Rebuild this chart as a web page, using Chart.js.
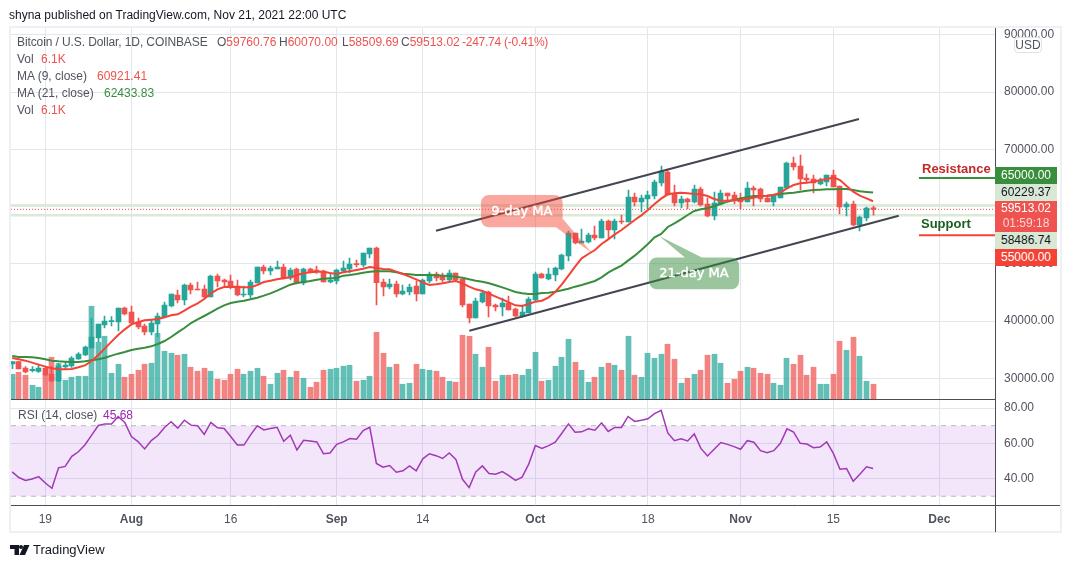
<!DOCTYPE html>
<html>
<head>
<meta charset="utf-8">
<title>BTCUSD</title>
<style>
	html, body { margin: 0; padding: 0; background: #fff; overflow: hidden; }
	body { width: 1071px; height: 568px; position: relative; font: 12px "Liberation Sans", Arial, sans-serif; color: #50535e; }
	#frame { position: absolute; left: 9px; top: 26px; width: 1053px; height: 507px; box-sizing: border-box; border: 2px solid #eef0f4; }
	canvas { position: absolute; left: 0; top: 0; }
	.t { position: absolute; white-space: nowrap; line-height: 14px; }
	.r { color: #ef5350; }
	.tag { position: absolute; left: 995px; width: 62px; text-align: center; line-height: 17px; color: #fff; }
</style>
</head>
<body>
<div id="frame"></div>
<canvas id="chart" width="1071" height="568"></canvas>

<div class="t" style="left:9px;top:8px;font-size:12px;color:#131722">shyna published on TradingView.com, Nov 21, 2021 22:00 UTC</div>

<div class="t" style="left:17px;top:35px;letter-spacing:-.1px">Bitcoin / U.S. Dollar, 1D, COINBASE</div>
<div class="t" style="left:217px;top:35px">O<span class="r">59760.76</span></div>
<div class="t" style="left:279px;top:35px">H<span class="r">60070.00</span></div>
<div class="t" style="left:342px;top:35px">L<span class="r">58509.69</span></div>
<div class="t" style="left:401px;top:35px">C<span class="r">59513.02</span></div>
<div class="t r" style="left:462px;top:35px;letter-spacing:-.25px">-247.74 (-0.41%)</div>
<div class="t" style="left:17px;top:52px">Vol</div><div class="t r" style="left:41px;top:52px">6.1K</div>
<div class="t" style="left:17px;top:69px">MA (9, close)</div><div class="t r" style="left:97px;top:69px">60921.41</div>
<div class="t" style="left:17px;top:86px">MA (21, close)</div><div class="t" style="left:104px;top:86px;color:#388e3c">62433.83</div>
<div class="t" style="left:17px;top:103px">Vol</div><div class="t r" style="left:41px;top:103px">6.1K</div>
<div class="t" style="left:18px;top:408px">RSI (14, close)</div><div class="t" style="left:103px;top:408px;color:#9c27b0">45.68</div>

<div class="t" style="left:922px;top:162px;font-weight:bold;font-size:13px;color:#c62828">Resistance</div>
<div class="t" style="left:921px;top:217px;font-weight:bold;font-size:13px;color:#1b5e20">Support</div>

<div class="tag" style="top:167px;background:#388e3c">65000.00</div>
<div class="tag" style="top:184px;background:#d8e8d4;color:#131722">60229.37</div>
<div class="tag" style="top:201px;height:31px;background:#ef5350;line-height:15px">59513.02<br><span style="opacity:.75">01:59:18</span></div>
<div class="tag" style="top:232px;background:#d8e8d4;color:#131722">58486.74</div>
<div class="tag" style="top:249px;background:#f44336">55000.00</div>

<div class="t" style="left:1014px;top:37px;width:26px;height:14px;text-align:center;border:1px solid #dfe1e6;border-radius:4px;background:rgba(255,255,255,.85)">USD</div>

<svg style="position:absolute;left:0;top:0" width="40" height="568">
	<path fill="#131722" d="M10 545h9v10h-4.5v-6H10zM24 545h5.5l-4.5 10h-5.5z"/>
	<circle fill="#131722" cx="21" cy="547" r="2"/>
</svg>
<div class="t" style="left:33px;top:543px;font-size:13px;color:#131722">TradingView</div>

<script src="https://cdn.jsdelivr.net/npm/chart.js@4/dist/chart.umd.min.js"></script>
<script>
// daily candles, Jul 14 - Nov 21 2021
var opens = [
	32500,32907,31800,31335,31218,31742,30752,29530,31975,32150,
	33372,34071,35294,37040,39311,39893,39835,42280,41582,39835,
	39136,38088,39486,40708,42630,44551,43677,46297,45599,45599,
	44202,47869,47171,46996,46123,44551,44551,46647,49441,48743,
	49092,49441,47520,49092,46647,49092,48917,48743,46821,46996,
	48743,49093,50024,49791,51713,52761,46822,45949,46473,44726,
	45076,46124,44726,46997,48219,47870,47171,48394,47346,42980,
	40534,43329,45076,42805,42456,43154,42106,40884,41408,43678,
	48219,47346,48045,49093,51363,55380,53634,53808,55031,54507,
	57476,55904,57476,57302,61669,60796,61320,61844,64114,66035,
	62193,60621,61320,60796,63066,60446,58350,60446,62367,62018,
	61320,60796,63241,63066,61494,60796,61494,63241,67607,67083,
	64987,64813,63939,64289,65511,63590,59922,60446,56778,58001,
	59760.76
];
var highs = [
	32907,32907,32034,32034,32325,32150,32150,32616,32907,33780,
	34479,35643,40534,39486,40883,40768,42280,42455,42630,40534,
	39486,40184,41407,43328,44725,45424,46472,46647,46821,46297,
	48044,48219,47345,48044,47171,46123,47171,49441,49790,49616,
	50489,49965,49267,49267,49267,49267,49616,48917,48219,49092,
	50490,51014,50665,51887,52761,52935,47346,47346,46997,46298,
	46473,46997,47346,48569,48569,48394,48918,48394,47346,42980,
	44027,45076,45250,42980,44027,44377,42281,42805,44202,48569,
	48394,49267,49442,51713,55730,55380,56079,55380,56603,57826,
	57651,57826,58524,62891,62367,62018,62717,64638,67083,66559,
	63765,61844,61494,63765,63415,61494,62542,62891,62367,62542,
	62367,64289,63590,63241,62018,62193,63415,67782,68655,69004,
	65686,65511,64987,65511,66385,63590,60796,60970,58350,59922,
	60070
];
var lows = [
	31684,31626,30927,31102,31044,30403,29355,29414,31626,31917,
	33314,33955,35294,36342,38787,39136,38263,41057,39486,38612,
	37565,37565,37215,40534,42455,43153,42804,44725,45424,44027,
	44202,45948,45948,45599,44376,44202,44027,46647,48219,48044,
	49092,47345,47171,46472,46297,48393,48335,46821,46647,46472,
	48569,48394,49442,49442,51014,42805,44377,45600,44202,44551,
	44551,43503,44726,46648,46997,46822,46997,46997,42456,39661,
	40534,43154,40709,41757,40884,41932,40709,40709,41408,43503,
	47521,47171,46997,48918,50490,53459,53634,53634,54158,54507,
	54332,54332,56952,57302,60097,59049,59573,61320,63590,62018,
	60097,59748,59573,60621,60097,58176,57652,60272,61145,60446,
	59573,60796,60097,60796,60796,60097,61494,63241,66385,62891,
	64289,62367,63765,63590,63415,58700,58350,56604,55730,57477,
	58509.69
];
var closes = [
	32907,31626,31102,31568,31800,30578,29530,32150,32325,33547,
	34246,35468,37215,39486,40010,40010,42280,41232,39660,38962,
	38088,39660,40883,42804,44725,43677,46297,45424,45424,44202,
	47869,46996,46821,45948,44551,44725,46821,49441,48743,49267,
	49441,47520,48917,46647,49092,48568,48743,46821,47171,48917,
	49267,49966,49850,51887,52761,46706,45949,46473,44726,45250,
	45949,44726,47171,48219,47521,47171,48394,47171,42805,40534,
	43503,44901,42630,42456,43154,41932,40884,41582,43853,48219,
	47521,48219,49267,51538,55380,53634,53983,55031,54507,57476,
	55904,57476,57302,61669,60796,61494,62018,64289,66210,62018,
	60621,61320,60796,63066,60272,58350,60621,62367,61844,60970,
	60796,63241,62891,61320,60796,61844,63415,67607,66909,64813,
	64638,64114,64463,65511,63415,59922,60446,56778,58176,59748,
	59513.02
];
// volume in thousands
var volumes = [
	10.1,10.9,9.7,5.7,4.9,10.1,16.9,14.4,7.7,8.9,
	9.3,9.3,37.3,22.9,25.3,10.5,14.1,8.9,10.1,11.7,
	14.1,14.5,26.5,19.3,18.5,17.7,18.1,12.9,11.3,12.5,
	11.3,8.1,7.7,10.1,12.1,10.1,11.3,12.5,9.3,6.1,
	10.5,11.7,8.9,11.3,8.5,4.9,6.9,11.7,12.1,12.5,
	13.3,13.7,7.3,7.7,9.3,26.9,18.5,12.9,14.1,6.1,
	6.5,14.1,12.1,11.7,11.3,8.9,7.3,6.9,25.7,25.3,
	18.1,12.9,20.9,7.3,9.7,9.7,10.1,9.7,12.1,18.9,
	7.3,7.7,13.3,16.9,24.1,14.9,11.7,6.9,8.9,12.9,
	14.5,13.7,11.7,25.3,9.7,8.9,18.5,16.5,18.1,22.1,
	16.1,6.5,8.5,10.1,11.7,17.7,18.1,14.5,6.5,8.1,
	11.3,12.9,12.5,10.5,10.1,6.5,5.7,16.5,14.1,17.7,
	9.7,12.9,6.1,6.1,10.1,23.3,19.7,24.9,17.3,7.3,
	6.1
];
var ma9 = [
	33547,33314,33081,32732,32383,32034,31742,31568,31568,31626,
	31917,32266,33023,34071,35235,36400,37564,38554,39427,39777,
	40126,40243,40359,40650,41000,41174,41815,42513,43095,43852,
	44842,45541,45948,46006,45948,45890,45890,46297,46821,47054,
	47287,47462,47636,48044,48335,48510,48626,48626,48393,48219,
	48510,48685,48918,49151,49442,49267,49093,49035,48627,48219,
	47754,47288,46764,46298,46415,46589,46822,46997,46589,46007,
	45541,45250,44785,44260,43795,43271,42747,42630,42980,43387,
	43562,44144,45076,46415,47928,49500,50956,51713,52411,53459,
	54274,55148,55904,56778,57651,58467,59398,60446,61378,62135,
	62309,62426,62309,62193,62135,61844,61320,61028,61028,61145,
	61145,61378,61552,61844,61902,62018,62426,63182,63765,64056,
	64172,64347,64638,64755,65104,64638,63590,62600,61902,61436,
	60921.41
];
var ma21 = [
	33897,33722,33722,33664,33547,33314,33081,32965,32907,32848,
	32848,32965,33140,33314,33605,33955,34304,34595,34944,35177,
	35352,35585,35992,36516,37215,38030,38787,39660,40301,40883,
	41523,42164,42746,43153,43386,43561,43794,44085,44434,44842,
	45308,45832,46356,46647,46821,46996,47229,47404,47462,47520,
	47928,48045,48219,48452,48627,48685,48685,48685,48510,48278,
	48161,48045,48045,48045,47986,47928,47870,47754,47579,47288,
	47055,46880,46589,46240,45891,45483,45076,44843,44726,44726,
	44901,44959,45134,45367,45658,46007,46298,46648,46997,47637,
	48452,49093,49675,50548,51421,52411,53459,54624,55206,56429,
	57069,57768,58525,59223,59515,59689,60097,60446,60854,61145,
	61436,61611,61844,61844,61902,62018,62193,62309,62426,62600,
	62775,62891,62950,63008,63008,63066,63066,62891,62659,62542,
	62433.83
];
var rsi = [
	43.8,40.6,39.0,39.8,41.1,37.5,34.5,46.1,46.9,52.6,
	55.2,59.2,64.6,70.1,71.0,71.0,75.2,71.8,63.8,61.0,
	56.8,61.5,64.4,69.0,72.2,68.6,73.1,70.3,69.9,65.0,
	71.8,68.8,68.4,63.8,59.0,59.0,64.8,69.9,67.6,68.4,
	69.1,61.1,64.6,56.2,61.7,61.3,60.8,54.1,54.5,59.4,
	60.8,62.7,62.3,67.2,69.1,48.6,46.5,47.4,43.6,44.4,
	47.2,44.4,51.2,54.1,53.0,51.4,54.5,50.9,39.6,34.9,
	43.8,47.2,42.9,42.5,44.0,41.7,39.0,40.8,48.2,58.7,
	57.1,58.7,60.6,65.7,71.0,66.3,66.5,68.2,67.4,71.6,
	66.7,69.0,69.0,75.2,72.4,73.1,73.9,76.8,78.7,65.9,
	61.5,62.5,61.3,65.3,57.1,52.8,56.6,60.4,59.4,58.1,
	56.6,61.5,60.6,55.8,54.7,55.8,60.0,68.2,66.3,60.0,
	59.6,57.5,57.9,60.8,54.3,45.3,45.7,38.5,42.5,46.7,
	45.68
];

// day index from Jul 14
var tickDays = [5, 18, 33, 49, 62, 79, 96, 110, 124, 140];
var tickLabels = ["19", "Aug", "16", "Sep", "14", "Oct", "18", "Nov", "15", "Dec"];
var monthLabels = ["Aug", "Sep", "Oct", "Nov", "Dec"];
var priceTicks = [30000, 40000, 50000, 60000, 70000, 80000, 90000];
var rsiTicks = [40, 60, 80];

var upperChannel = [{x: 64.0, y: 55782}, {x: 127.87, y: 75293}];
var lowerChannel = [{x: 69.03, y: 38314}, {x: 133.87, y: 58402}];
var resistance = 65000, support = 55000, rayStart = 136.93;
var dayHigh = 60229.37, dayLow = 58486.74, lastClose = 59513.02;
var rsiTop = 70, rsiBottom = 30;
var tip9 = {x: 87.5, y: 51939}, tip21 = {x: 97.7, y: 54856};

var xMin = -0.18, xMax = 148.41;
var UP = "#26a69a", DOWN = "#ef5350";
var GRID = "#e0e8ee", RED = "#f44336", GREEN = "#388e3c";

Chart.defaults.font.family = '"Liberation Sans", Arial, sans-serif';
Chart.defaults.font.size = 12;
Chart.defaults.color = "#50535e";

var isUp = closes.map(function(c, i){ return c >= opens[i]; });
var candleColors = isUp.map(function(u){ return u ? UP : DOWN; });
var volColors = isUp.map(function(u){ return u ? "rgba(38,166,154,.72)" : "rgba(239,83,80,.72)"; });

function points(list){
	return list.map(function(v, i){ return {x: i, y: v}; });
}
function hline(y, color, width, dash, from, axis, order){
	return {type: "line", data: [{x: from, y: y}, {x: xMax, y: y}], borderColor: color, borderWidth: width,
		borderDash: dash, pointRadius: 0, yAxisID: axis, order: order};
}
function overlay(list, color, width, axis, order){
	return {type: "line", data: list, borderColor: color, borderWidth: width, pointRadius: 0, yAxisID: axis, order: order};
}

// speech bubble, tip is anchored to the price scale
function callout(ctx, tx, ty, box, base, fill, label){
	var r = 8;
	ctx.save();
	ctx.beginPath();
	ctx.roundRect(tx + box[0], ty + box[1], box[2], box[3], r);
	ctx.moveTo(tx + base[0], ty + base[1]);
	ctx.lineTo(tx, ty);
	ctx.lineTo(tx + base[2], ty + base[3]);
	ctx.closePath();
	ctx.fillStyle = fill;
	ctx.fill("nonzero");
	ctx.fillStyle = "#fff";
	ctx.strokeStyle = "#fff";
	ctx.lineWidth = 0.4;
	ctx.font = '13px "DejaVu Sans", sans-serif';
	ctx.textAlign = "center";
	ctx.textBaseline = "middle";
	ctx.fillText(label, tx + box[0] + box[2] / 2, ty + box[1] + box[3] / 2);
	ctx.strokeText(label, tx + box[0] + box[2] / 2, ty + box[1] + box[3] / 2);
	ctx.restore();
}

var chartExtras = {
	id: "chartExtras",
	// keep candles and wicks on whole pixels, like the original
	beforeDatasetsDraw: function(chart){
		chart.data.datasets.forEach(function(ds, n){
			if(ds.type !== "bar") return;
			chart.getDatasetMeta(n).data.forEach(function(el){
				el.x = Math.round(el.x - 0.5) + 0.5;
			});
		});
	},
	afterDraw: function(chart){
		var ctx = chart.ctx, a = chart.chartArea, sx = chart.scales.x, sy = chart.scales.y;
		callout(ctx, sx.getPixelForValue(tip9.x), sy.getPixelForValue(tip9.y),
			[-110.7, -57.7, 81.7, 32.3], [-28.7, -33.7, -35.7, -25.4], "rgba(244,67,54,.47)", "9-day MA");
		callout(ctx, sx.getPixelForValue(tip21.x), sy.getPixelForValue(tip21.y),
			[-10.3, 21.5, 90.3, 31.8], [25.7, 21.5, 42.7, 21.5], "rgba(56,142,60,.5)", "21-day MA");

		// pane separators and axis lines
		ctx.save();
		ctx.strokeStyle = "#4a4d56";
		ctx.lineWidth = 1;
		ctx.beginPath();
		var py = Math.round(chart.scales.yRsi.top) - 0.5;
		ctx.moveTo(a.left, py); ctx.lineTo(a.right, py);
		ctx.moveTo(a.left, a.bottom + 0.5); ctx.lineTo(1060, a.bottom + 0.5);
		ctx.moveTo(a.right + 0.5, a.top); ctx.lineTo(a.right + 0.5, 532);
		ctx.stroke();
		ctx.restore();
	}
};

function fixWidth(axis){ axis.width = 66; }

new Chart(document.getElementById("chart").getContext("2d"), {
	type: "line",
	data: {
		datasets: [
			hline(dayHigh, "#dcebd8", 2.5, [], xMin, "y", 20),
			hline(dayLow, "#dcebd8", 2.5, [], xMin, "y", 19),
			hline(lastClose, "#ef5350", 1, [1, 2], xMin, "y", 18),
			{type: "bar", data: points(volumes), backgroundColor: volColors, barThickness: 5, grouped: false, yAxisID: "yVol", order: 15},
			{type: "bar", data: lows.map(function(l, i){ return {x: i, y: [l, highs[i]]}; }),
				backgroundColor: candleColors, barThickness: 1, grouped: false, yAxisID: "y", order: 14},
			{type: "bar", data: opens.map(function(o, i){ return {x: i, y: [o, closes[i]]}; }),
				backgroundColor: candleColors, barThickness: 5, minBarLength: 1, grouped: false, yAxisID: "y", order: 13},
			overlay(points(ma21), GREEN, 2, "y", 12),
			overlay(points(ma9), RED, 2, "y", 11),
			overlay(upperChannel, "#434651", 2, "y", 10),
			overlay(lowerChannel, "#434651", 2, "y", 9),
			hline(resistance, GREEN, 2, [], rayStart, "y", 8),
			hline(support, RED, 2, [], rayStart, "y", 7),
			{type: "line", data: [{x: xMin, y: rsiTop}, {x: xMax, y: rsiTop}], borderColor: "rgba(120,123,134,.5)", borderWidth: 1,
				borderDash: [5, 5], pointRadius: 0, yAxisID: "yRsi", backgroundColor: "rgba(155,47,222,.12)", fill: {value: rsiBottom}, order: 6},
			hline(rsiBottom, "rgba(120,123,134,.5)", 1, [5, 5], xMin, "yRsi", 5),
			overlay(points(rsi), "#a238b6", 1.5, "yRsi", 4)
		]
	},
	options: {
		responsive: false,
		animation: false,
		events: [],
		layout: {padding: {left: 11, top: 28, right: 10, bottom: 36}},
		plugins: {legend: {display: false}, title: {display: false}, tooltip: {enabled: false}},
		scales: {
			x: {
				type: "linear", min: xMin, max: xMax, offset: false,
				// bar datasets switch grid.offset on by default
				grid: {color: GRID, drawTicks: false, offset: false},
				border: {display: false},
				afterBuildTicks: function(axis){
					axis.ticks = tickDays.map(function(d){ return {value: d}; });
				},
				afterFit: function(axis){ axis.height = 27; },
				ticks: {
					autoSkip: false, maxRotation: 0, padding: 7,
					callback: function(v){ return tickLabels[tickDays.indexOf(v)]; },
					font: function(c){
						var name = c.tick ? tickLabels[tickDays.indexOf(c.tick.value)] : "";
						return {weight: monthLabels.indexOf(name) >= 0 ? "bold" : "normal"};
					}
				}
			},
			y: {
				position: "right", stack: "panes", stackWeight: 371.5, min: 26298, max: 91188,
				grid: {color: GRID, drawTicks: false},
				border: {display: false},
				afterBuildTicks: function(axis){
					axis.ticks = priceTicks.map(function(v){ return {value: v}; });
				},
				afterFit: fixWidth,
				ticks: {padding: 9, callback: function(v){ return v.toFixed(2); }}
			},
			yRsi: {
				position: "right", stack: "panes", stackWeight: 105.5, min: 25.04, max: 84.82,
				grid: {color: GRID, drawTicks: false},
				border: {display: false},
				afterBuildTicks: function(axis){
					axis.ticks = rsiTicks.map(function(v){ return {value: v}; });
				},
				afterFit: fixWidth,
				ticks: {padding: 9, callback: function(v){ return v.toFixed(2); }}
			},
			yVol: {position: "left", display: false, min: -42.2, max: 148.6}
		}
	},
	plugins: [chartExtras]
});
</script>
</body>
</html>
